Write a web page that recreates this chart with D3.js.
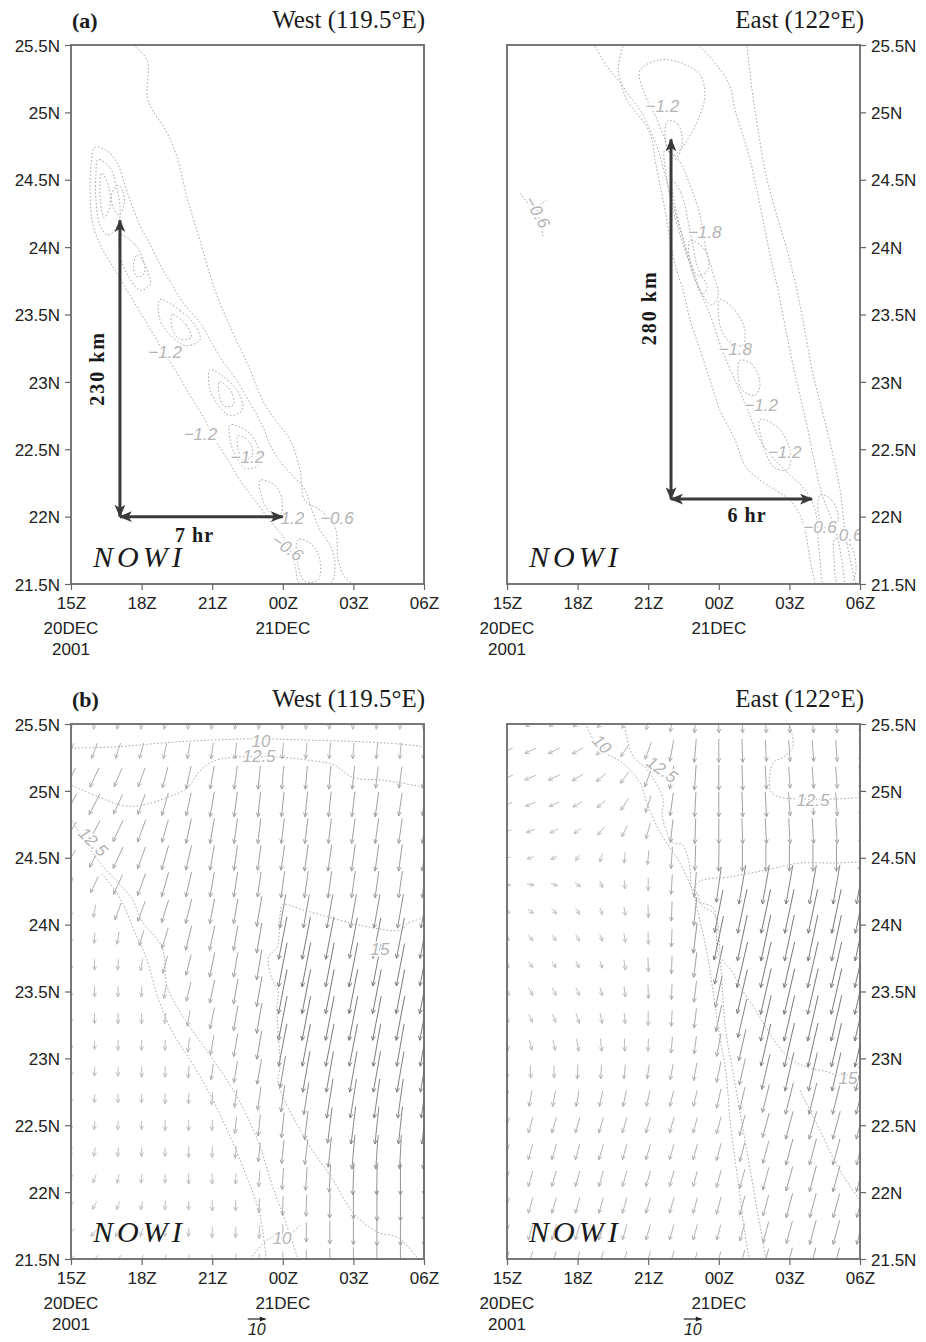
<!DOCTYPE html>
<html>
<head>
<meta charset="utf-8">
<script src="https://cdn.jsdelivr.net/npm/d3@7"></script>
<style>
  body { margin: 0; background: #fff; }
  .tick text { font-family: "Liberation Sans", Arial, sans-serif; font-size: 17px; fill: #222; }
  .tick line { stroke: #666; stroke-width: 1.2; }
</style>
</head>
<body>
<svg id="chart" width="926" height="1342"></svg>
<script>
// time axis in hours after 00Z 20 Dec 2001 (24 = 00Z 21DEC)
var tickHours = [15, 18, 21, 24, 27, 30];
var tickLabels = ["15Z", "18Z", "21Z", "00Z", "03Z", "06Z"];
var latTicks = [21.5, 22, 22.5, 23, 23.5, 24, 24.5, 25, 25.5];

// wind grid (columns = hours, rows = latitude from north to south)
var timeHours = [15, 16, 17, 18, 19, 20, 21, 22, 23, 24, 25, 26, 27, 28, 29, 30];
var latRows = [25.5, 25.3, 25.1, 24.9, 24.7, 24.5, 24.3, 24.1, 23.9, 23.7, 23.5, 23.3, 23.1, 22.9, 22.7, 22.5, 22.3, 22.1, 21.9, 21.7, 21.5];

// wind speed (m/s) and direction the wind blows toward (deg from north)
var westSpeed = [
  [6,6,6,6,6,6,6,6,6,6,6,6,6,6,6,6],
  [9,9,9,9,9,9,9,9,9,9,9,9,9,9,9,9],
  [12,12,11,11,12,13,13,13,13,13,13,13,13,12,12,12],
  [13,13,12,12,13,13,14,14,14,14,14,14,14,14,13,13],
  [12,13,13,13,13,14,14,14,14,14,14,14,14,14,14,14],
  [10,12,13,13,14,14,14,14,14,14,15,15,15,15,15,15],
  [8,10,12,13,14,14,14,14,14,15,15,15,15,15,15,15],
  [6,7,10,12,13,14,14,14,17,19,19,19,19,19,19,19],
  [6,6,7,9,12,14,14,14,17,24,24,24,23,23,23,23],
  [6,6,6,7,10,12,14,14,17,25,25,25,25,24,24,24],
  [6,6,6,6,8,11,13,14,17,25,25,25,25,25,25,25],
  [5,6,6,6,6,9,12,14,17,25,25,25,25,25,25,25],
  [5,5,6,6,6,8,11,13,16,24,24,24,24,24,24,24],
  [5,5,5,6,6,7,9,12,14,18,23,23,23,23,23,23],
  [5,5,5,5,6,6,7,10,13,15,18,22,22,22,22,22],
  [5,5,5,5,6,6,6,9,12,14,16,20,21,21,21,21],
  [5,5,5,5,5,6,6,7,11,13,14,17,19,19,19,19],
  [5,5,5,5,5,6,6,6,9,12,13,15,18,18,18,18],
  [5,5,5,5,5,5,6,6,8,11,12,14,15,17,17,17],
  [6,6,6,5,5,5,6,6,7,9,11,13,14,15,15,15],
  [6,6,6,5,5,5,5,6,6,8,10,12,13,14,14,14]
];
var westDir = [
  [190,190,190,190,190,190,190,190,188,188,188,188,188,188,188,188],
  [200,200,198,195,192,190,188,186,185,185,185,185,185,185,185,185],
  [205,205,203,200,195,192,190,188,186,185,185,185,186,187,188,188],
  [208,207,205,200,196,192,190,188,186,186,186,186,187,188,188,188],
  [210,208,205,200,196,192,190,188,187,187,187,187,188,188,188,188],
  [210,208,205,200,196,193,190,188,188,188,188,188,188,188,188,188],
  [195,205,205,200,196,193,190,189,188,188,188,188,188,188,188,188],
  [185,190,200,200,197,194,191,190,190,190,190,190,190,190,190,190],
  [182,184,190,196,197,194,192,190,190,191,191,191,191,191,191,191],
  [180,180,184,190,195,194,192,190,190,191,191,191,191,191,191,191],
  [180,180,180,184,190,193,192,190,190,191,191,191,191,191,191,191],
  [180,180,180,180,185,190,192,190,190,191,191,191,191,191,191,191],
  [180,180,180,180,182,187,190,190,190,191,191,191,191,190,190,190],
  [182,182,180,180,180,184,188,190,190,190,190,190,190,190,190,190],
  [185,183,180,180,180,182,185,188,188,188,189,189,189,188,188,188],
  [188,185,182,180,180,180,183,186,186,186,187,187,187,186,186,186],
  [195,190,185,182,180,180,181,184,186,186,187,186,185,184,183,183],
  [205,200,192,186,182,180,180,182,184,184,184,183,182,181,180,180],
  [215,210,200,190,184,181,180,181,182,182,182,181,180,180,180,180],
  [225,222,212,198,188,183,181,181,181,181,180,180,180,180,180,180],
  [230,228,220,205,192,185,182,181,180,180,180,180,180,180,180,180]
];
var eastSpeed = [
  [6,6,6,6,6,6,7,9,10,10,10,10,10,10,10,10],
  [7,7,7,7,7,8,10,12,13,13,13,12,12,12,12,12],
  [7,7,7,7,7,8,11,13,14,14,14,13,12,12,12,13],
  [6,6,6,6,6,8,10,13,14,14,14,14,13,12,13,13],
  [5,5,5,5,6,7,9,13,14,14,14,14,14,14,14,14],
  [4,4,4,4,5,6,8,12,14,15,15,15,15,15,15,15],
  [4,4,4,4,4,5,7,11,14,20,22,22,22,22,22,22],
  [4,4,4,4,4,5,7,11,16,24,25,25,25,25,25,25],
  [4,4,4,4,4,5,7,10,17,25,26,26,26,26,26,26],
  [4,4,4,4,4,6,8,10,14,22,26,26,26,26,26,26],
  [5,5,5,5,5,6,8,9,12,18,25,26,26,26,26,26],
  [5,5,5,6,6,6,8,9,11,15,22,26,26,26,26,26],
  [6,6,6,7,7,7,7,9,10,13,18,24,25,25,25,25],
  [7,7,7,8,8,8,8,9,10,12,15,20,22,22,22,22],
  [9,9,9,9,9,9,9,9,9,11,13,16,18,18,18,18],
  [9,9,9,9,9,9,9,9,9,10,12,14,16,16,16,16],
  [9,9,9,9,9,9,9,9,9,10,11,13,15,15,15,15],
  [9,9,9,9,9,9,9,9,9,10,11,13,14,15,15,15],
  [9,9,9,9,9,9,9,9,9,10,11,12,14,14,14,14],
  [9,9,9,9,9,9,9,9,9,9,10,12,13,14,14,14],
  [9,9,9,9,9,9,9,9,8,9,10,12,13,13,13,13]
];
var eastDir = [
  [245,245,245,240,230,215,200,190,185,180,178,177,176,176,176,176],
  [245,245,245,240,230,215,200,190,185,180,178,177,176,176,176,176],
  [248,248,245,240,230,215,200,190,184,180,178,177,176,176,176,176],
  [250,250,245,240,230,212,198,188,183,180,178,177,176,176,176,176],
  [255,252,245,235,220,205,195,186,182,180,178,177,177,177,177,177],
  [262,255,240,215,195,185,185,184,182,181,180,180,180,180,180,180],
  [100,100,110,130,160,175,180,183,185,188,190,190,190,190,190,190],
  [120,125,135,145,160,170,178,182,186,191,192,192,192,192,192,192],
  [135,140,145,150,160,170,178,182,187,192,192,192,192,192,192,192],
  [145,145,150,155,163,172,178,182,187,192,193,193,193,193,193,193],
  [150,150,152,158,165,173,178,182,187,192,193,193,193,193,193,193],
  [155,155,158,162,168,175,180,183,187,192,193,193,193,193,193,193],
  [165,165,168,170,174,178,182,185,187,191,193,193,193,193,193,193],
  [178,178,180,182,184,186,188,190,190,192,193,193,193,193,193,193],
  [190,190,190,190,192,192,193,193,193,193,193,194,194,194,194,194],
  [196,196,196,196,196,196,196,196,195,195,195,195,195,195,195,195],
  [196,196,196,196,196,196,196,196,195,195,195,195,195,195,195,195],
  [196,196,196,196,196,196,196,196,195,195,195,195,195,195,195,195],
  [196,196,196,196,196,196,196,196,195,195,195,195,195,195,195,195],
  [196,196,196,196,196,196,196,196,195,195,195,195,195,195,195,195],
  [196,196,196,196,196,196,196,196,195,195,195,195,195,195,195,195]
];

// NOWI contours, [hour, lat]; loops end on their first point
var westNowiLines = [
  [[17.63,25.5],[18.23,25.39],[18.27,25.09],[19.08,24.85],[19.5,24.67],[19.93,24.37],[20.48,24.05],[21.12,23.68],[21.84,23.38],[22.61,23.09],[23.12,22.87],[23.67,22.72],[24.31,22.57],[24.73,22.35],[24.94,22.12],[25.58,22.05],[26.22,21.92],[26.35,21.68],[26.64,21.55],[26.98,21.5]],
  [[16.02,24.74],[16.57,24.71],[17.0,24.61],[17.29,24.46],[17.59,24.31],[17.93,24.16],[18.36,24.02],[18.78,23.87],[19.29,23.72],[19.84,23.57],[20.48,23.44],[20.91,23.31],[21.42,23.16],[21.97,23.03],[22.52,22.87],[23.12,22.68],[23.46,22.53],[23.88,22.41],[24.39,22.31],[24.94,22.2],[25.24,22.05],[25.58,21.9],[26.01,21.79],[26.22,21.64],[26.01,21.5],[24.73,21.5],[24.52,21.64],[24.09,21.83],[23.46,21.97],[22.82,22.12],[22.18,22.27],[21.67,22.42],[21.12,22.57],[20.69,22.72],[20.06,22.9],[19.42,23.09],[18.78,23.27],[18.14,23.46],[17.51,23.64],[16.87,23.83],[16.23,24.02],[15.89,24.2],[15.81,24.42],[15.85,24.61],[16.02,24.74]],
  [[16.15,24.65],[16.66,24.59],[16.91,24.46],[17.08,24.31],[17.0,24.16],[16.57,24.09],[16.23,24.16],[16.06,24.35],[16.06,24.54],[16.15,24.65]],
  [[17.0,24.46],[17.21,24.41],[17.25,24.31],[17.04,24.24],[16.78,24.3],[16.74,24.4],[17.0,24.46]],
  [[17.08,24.09],[17.72,24.02],[18.14,23.87],[18.36,23.72],[17.93,23.68],[17.42,23.79],[17.08,23.94],[17.08,24.09]],
  [[17.8,23.94],[18.1,23.88],[18.1,23.8],[17.8,23.78],[17.65,23.86],[17.8,23.94]],
  [[18.78,23.61],[19.63,23.53],[20.27,23.42],[20.48,23.31],[19.84,23.27],[19.21,23.35],[18.78,23.46],[18.78,23.61]],
  [[20.91,23.09],[21.67,23.01],[22.18,22.9],[22.27,22.79],[21.76,22.75],[21.25,22.83],[20.91,22.94],[20.91,23.09]],
  [[21.76,22.68],[22.52,22.63],[22.95,22.51],[22.95,22.38],[22.39,22.36],[21.97,22.46],[21.76,22.57],[21.76,22.68]],
  [[23.03,22.27],[23.67,22.23],[23.97,22.12],[23.88,22.01],[23.46,22.03],[23.12,22.14],[23.03,22.27]],
  [[24.65,21.83],[25.24,21.79],[25.58,21.68],[25.5,21.53],[24.94,21.52],[24.65,21.64],[24.65,21.83]],
  [[16.3,24.55],[16.6,24.45],[16.65,24.3],[16.4,24.22],[16.25,24.35],[16.3,24.55]],
  [[19.3,23.5],[19.9,23.42],[20.1,23.33],[19.6,23.32],[19.3,23.4],[19.3,23.5]],
  [[21.3,23.0],[21.8,22.93],[21.9,22.83],[21.5,22.82],[21.3,22.9],[21.3,23.0]],
  [[22.1,22.6],[22.6,22.55],[22.7,22.45],[22.3,22.42],[22.1,22.5],[22.1,22.6]]
];
var westNowiLabels = [
  ["\u22121.2", 19.0, 23.22, 0], ["\u22121.2", 20.5, 22.61, 0], ["\u22121.2", 22.5, 22.44, 0],
  ["\u22121.2", 24.2, 21.99, 0], ["\u22120.6", 26.3, 21.99, 0], ["\u22120.6", 24.2, 21.77, 35]
];
var eastNowiLines = [
  [[18.74,25.49],[19.25,25.34],[19.8,25.22],[20.1,25.09],[20.95,24.89],[21.16,24.8],[21.29,24.65],[21.5,24.46],[21.71,24.28],[21.93,24.05],[22.14,23.87],[22.48,23.68],[22.78,23.46],[23.2,23.24],[23.63,23.01],[24.05,22.79],[24.69,22.57],[25.11,22.38],[25.75,22.27],[26.39,22.2],[27.03,22.12],[27.45,22.01],[27.66,21.9],[27.88,21.68],[28.09,21.5]],
  [[19.93,25.49],[19.72,25.31],[20.01,25.17],[20.65,25.02],[21.08,24.87],[21.42,24.72],[21.71,24.54],[22.01,24.35],[22.35,24.13],[22.78,23.9],[23.2,23.68],[23.71,23.46],[24.14,23.24],[24.69,23.01],[25.24,22.79],[25.75,22.57],[26.39,22.42],[27.03,22.31],[27.66,22.2],[28.09,22.05],[28.22,21.83],[28.39,21.5]],
  [[20.65,25.31],[21.5,25.39],[22.35,25.37],[23.2,25.28],[23.41,25.13],[23.2,24.98],[22.78,24.83],[22.35,24.72],[22.01,24.68],[21.71,24.8],[21.29,24.98],[20.86,25.13],[20.65,25.31]],
  [[23.2,25.49],[23.97,25.34],[24.48,25.19],[24.69,25.02],[24.99,24.85],[25.33,24.65],[25.62,24.42],[25.88,24.2],[26.18,23.94],[26.52,23.68],[26.81,23.42],[27.11,23.16],[27.45,22.9],[27.79,22.64],[28.09,22.38],[28.39,22.16],[28.73,22.01],[29.07,21.83],[29.36,21.5]],
  [[25.2,25.49],[25.41,25.17],[25.67,24.87],[25.96,24.57],[26.39,24.28],[26.9,23.98],[27.32,23.68],[27.66,23.38],[27.96,23.09],[28.39,22.79],[28.81,22.49],[29.15,22.2],[29.36,21.9],[29.58,21.68],[29.83,21.5]],
  [[21.84,24.94],[22.27,24.91],[22.44,24.76],[22.14,24.65],[21.84,24.72],[21.71,24.83],[21.84,24.94]],
  [[21.71,24.72],[22.27,24.65],[22.78,24.46],[23.2,24.24],[23.41,24.02],[23.71,23.83],[23.97,23.64],[23.71,23.57],[23.2,23.68],[22.78,23.87],[22.35,24.09],[22.01,24.31],[21.76,24.54],[21.71,24.72]],
  [[22.0,24.5],[22.4,24.4],[22.8,24.1],[23.1,23.85],[23.5,23.7],[23.3,23.65],[22.9,23.8],[22.5,24.05],[22.15,24.3],[22.0,24.5]],
  [[24.05,23.61],[24.69,23.53],[25.11,23.38],[24.99,23.27],[24.39,23.31],[24.05,23.42],[24.05,23.61]],
  [[22.78,24.05],[23.41,23.98],[23.54,23.83],[23.12,23.79],[22.78,23.9],[22.78,24.05]],
  [[24.9,23.16],[25.41,23.13],[25.75,22.98],[25.54,22.9],[24.99,22.94],[24.82,23.05],[24.9,23.16]],
  [[25.75,22.72],[26.52,22.66],[27.03,22.49],[26.94,22.35],[26.39,22.36],[25.96,22.49],[25.75,22.72]],
  [[28.3,22.16],[28.81,22.12],[29.07,21.97],[28.73,21.9],[28.3,21.97],[28.3,22.16]],
  [[28.94,21.83],[29.58,21.79],[29.83,21.6],[29.58,21.5],[29.07,21.5],[28.9,21.68],[28.94,21.83]],
  [[15.55,24.4],[15.89,24.33],[16.23,24.3],[16.66,24.35]],
  [[16.23,24.3],[16.4,24.19],[16.53,24.08]]
];
var eastNowiLabels = [
  ["\u22121.2", 21.6, 25.05, 0], ["\u22121.8", 23.4, 24.11, 0], ["\u22121.8", 24.7, 23.24, 0],
  ["\u22121.2", 25.8, 22.83, 0], ["\u22121.2", 26.8, 22.48, 0], ["\u22120.6", 28.3, 21.92, 0],
  ["0.6", 29.6, 21.86, 0], ["\u22120.6", 16.3, 24.26, 60]
];

// isotachs (m/s) of the wind panels, [hour, lat]
var westWindLines = [
  [[15,25.32],[17,25.33],[19,25.36],[21,25.38],[23,25.39],[25,25.38],[27,25.37],[29,25.35],[30,25.33]],
  [[15.04,25.04],[16.23,24.95],[17.21,24.89],[17.93,24.89],[19.08,24.95],[19.93,25.02],[20.48,25.15],[21.03,25.22],[21.88,25.25],[24.0,25.25],[25.45,25.22],[26.13,25.2],[26.98,25.1],[28.26,25.08],[29.96,25.03]],
  [[15.04,24.78],[16.15,24.48],[16.87,24.34],[17.6,24.19],[18.0,24.03],[18.87,23.83],[19.1,23.53],[20.0,23.25],[21.0,23.0],[22.0,22.73],[22.95,22.38],[23.55,22.05],[23.97,21.85],[24.65,21.5]],
  [[16.3,24.38],[16.9,24.25],[17.3,24.12],[17.7,23.95],[18.2,23.75],[18.7,23.45],[19.3,23.2],[20.2,22.95],[21.0,22.7],[21.8,22.4],[22.5,22.1],[23.0,21.85],[23.3,21.5]],
  [[22.6,21.5],[23.2,21.62],[23.6,21.67],[24.4,21.7],[24.7,21.75]],
  [[30,24.05],[29.3,24.01],[29.0,23.96],[27.7,23.98],[24.86,24.11],[24.0,24.15],[23.9,24.09],[23.75,23.83],[23.4,23.76],[23.55,23.59],[23.8,23.51],[23.75,23.38],[23.88,22.94],[23.8,22.82],[24.95,22.4],[26.1,22.1],[27.07,21.83],[28.05,21.7],[28.9,21.66],[29.75,21.5]]
];
var westWindLabels = [
  ["10", 23.07, 25.37, 0], ["12.5", 22.99, 25.26, 0], ["12.5", 15.94, 24.62, 45],
  ["10", 23.97, 21.66, 0], ["15", 28.13, 23.82, 0]
];
var eastWindLines = [
  [[18.4,25.48],[18.95,25.31],[19.9,25.21],[20.65,25.06],[20.95,24.91],[21.5,24.69],[22.35,24.46],[22.9,24.24],[23.2,24.03],[23.5,23.79],[23.75,23.51],[24.0,23.2],[24.3,22.9],[24.5,22.5],[24.8,22.1],[25.1,21.7],[25.3,21.5]],
  [[20.0,25.48],[20.35,25.26],[20.95,25.16],[21.63,24.94],[21.59,24.82],[21.8,24.69],[22.06,24.61],[22.44,24.6],[22.65,24.52],[22.78,24.42],[22.86,24.27],[23.07,24.24],[23.28,24.14],[23.75,24.09],[23.97,23.99],[24.05,23.79],[24.14,23.54],[24.3,23.2],[24.6,22.9],[25.0,22.5],[25.4,22.1],[25.7,21.8],[26.0,21.5]],
  [[30,24.47],[28.85,24.46],[27.45,24.46],[26.05,24.41],[24.6,24.36],[23.07,24.31],[23.07,24.18],[23.75,24.13],[23.9,24.04],[23.97,23.79],[24.6,23.64],[24.9,23.54],[25.6,23.35],[26.3,23.15],[27.0,23.0],[27.8,22.93],[28.6,22.9],[29.1,22.87],[29.8,22.9],[30,22.95]],
  [[27.03,25.48],[27.15,25.33],[26.73,25.25],[26.31,25.21],[26.18,25.01],[26.47,24.96],[27.4,24.94],[29.02,24.94],[30,24.95]],
  [[27.45,22.76],[28.3,22.46],[29.15,22.16],[30,21.94]]
];
var eastWindLabels = [
  ["10", 19.04, 25.35, 45], ["12.5", 21.59, 25.16, 35], ["12.5", 28.0, 24.93, 0], ["15", 29.49, 22.85, 0]
];

// distance / duration arrows drawn on the NOWI panels
var westArrowV = [[17.08, 22.0], [17.08, 24.2]];
var westArrowH = [[17.08, 22.0], [24.0, 22.0]];
var eastArrowV = [[21.97, 22.13], [21.97, 24.8]];
var eastArrowH = [[21.97, 22.13], [27.96, 22.13]];
var westArrowText = [["230 km", 16.1, 23.1, -90], ["7 hr", 20.25, 21.86, 0]];
var eastArrowText = [["280 km", 21.05, 23.55, -90], ["6 hr", 25.2, 22.01, 0]];

var svg = d3.select("#chart");
var grayLine = "#a9a9a9";
var speedLen = d3.scaleLinear().domain([0, 10]).range([0, 18]);
var speedColor = d3.scaleLinear().domain([5, 25]).range(["#bdbdbd", "#727272"]).clamp(true);

var defs = svg.append("defs");
defs.append("marker").attr("id", "head").attr("viewBox", "0 0 12 10")
  .attr("refX", 11).attr("refY", 5).attr("markerWidth", 13).attr("markerHeight", 11)
  .attr("markerUnits", "userSpaceOnUse").attr("orient", "auto-start-reverse")
  .append("path").attr("d", "M0,0 L12,5 L0,10 L3,5 z").attr("fill", "#3a3a3a");

function drawPanel(p) {
  var x = d3.scaleLinear().domain([15, 30]).range([p.x0, p.x1]);
  var y = d3.scaleLinear().domain([21.5, 25.5]).range([p.y1, p.y0]);
  var g = svg.append("g");

  defs.append("clipPath").attr("id", "clip" + p.id).append("rect")
    .attr("x", p.x0).attr("y", p.y0).attr("width", p.x1 - p.x0).attr("height", p.y1 - p.y0);
  var plot = g.append("g").attr("clip-path", "url(#clip" + p.id + ")");

  // wind vectors
  if (p.speed) {
    p.speed.forEach(function(row, i) {
      row.forEach(function(s, j) {
        var a = p.dir[i][j] * Math.PI / 180;
        var L = speedLen(s);
        var dx = L * Math.sin(a), dy = -L * Math.cos(a);
        var cx = x(timeHours[j]), cy = y(latRows[i]);
        var hx = cx + dx / 2, hy = cy + dy / 2;
        var ux = -dx / L, uy = -dy / L, h = 4.5, k = 0.45;
        var c = Math.cos(k), sn = Math.sin(k);
        var l1 = [hx + h * (ux * c - uy * sn), hy + h * (ux * sn + uy * c)];
        var l2 = [hx + h * (ux * c + uy * sn), hy + h * (-ux * sn + uy * c)];
        plot.append("path")
          .attr("d", "M" + (cx - dx / 2) + "," + (cy - dy / 2) + "L" + hx + "," + hy +
            "M" + l1[0] + "," + l1[1] + "L" + hx + "," + hy + "L" + l2[0] + "," + l2[1])
          .attr("fill", "none").attr("stroke", speedColor(s)).attr("stroke-width", 0.95);
      });
    });
  }

  // contours
  p.lines.forEach(function(pts) {
    var closed = pts.length > 3 && pts[0][0] === pts[pts.length - 1][0] && pts[0][1] === pts[pts.length - 1][1];
    var line = d3.line().x(function(d) { return x(d[0]); }).y(function(d) { return y(d[1]); })
      .curve(closed ? d3.curveCatmullRomClosed : d3.curveCatmullRom);
    plot.append("path").attr("d", line(closed ? pts.slice(0, -1) : pts))
      .attr("fill", "none").attr("stroke", grayLine).attr("stroke-width", 1)
      .attr("stroke-dasharray", "1.6,2");
  });
  p.labels.forEach(function(d) {
    plot.append("text").attr("transform", "translate(" + x(d[1]) + "," + y(d[2]) + ") rotate(" + d[3] + ")")
      .attr("text-anchor", "middle").attr("dy", "0.35em")
      .attr("font-family", "Liberation Sans, Arial, sans-serif").attr("font-size", 17)
      .attr("font-style", "italic").attr("fill", "#b4b4b4")
      .attr("stroke", "#fff").attr("stroke-width", 3).attr("paint-order", "stroke")
      .text(d[0]);
  });

  // distance / duration arrows
  if (p.arrows) {
    p.arrows.forEach(function(seg) {
      g.append("line").attr("x1", x(seg[0][0])).attr("y1", y(seg[0][1]))
        .attr("x2", x(seg[1][0])).attr("y2", y(seg[1][1]))
        .attr("stroke", "#3a3a3a").attr("stroke-width", 3)
        .attr("marker-start", "url(#head)").attr("marker-end", "url(#head)");
    });
    p.arrowText.forEach(function(d) {
      g.append("text").attr("transform", "translate(" + x(d[1]) + "," + y(d[2]) + ") rotate(" + d[3] + ")")
        .attr("text-anchor", "middle").attr("dy", "0.35em")
        .attr("font-family", "Liberation Serif, Times New Roman, serif").attr("font-weight", "bold")
        .attr("font-size", 20).attr("letter-spacing", d[3] ? 2 : 1).attr("fill", "#1a1a1a").text(d[0]);
    });
  }

  // NOWI tag
  g.append("text").attr("x", x(15) + 22).attr("y", p.y1 - 17)
    .attr("font-family", "Liberation Serif, Times New Roman, serif").attr("font-style", "italic")
    .attr("font-size", 30).attr("letter-spacing", 4).attr("fill", "#1a1a1a").text("NOWI");

  // frame
  g.append("rect").attr("x", p.x0).attr("y", p.y0).attr("width", p.x1 - p.x0).attr("height", p.y1 - p.y0)
    .attr("fill", "none").attr("stroke", "#6a6a6a").attr("stroke-width", 1.8);

  // axes
  var yAxis = (p.yRight ? d3.axisRight(y) : d3.axisLeft(y))
    .tickValues(latTicks).tickFormat(function(d) { return d + "N"; })
    .tickSizeInner(6).tickSizeOuter(0).tickPadding(5);
  var ya = g.append("g").attr("transform", "translate(" + (p.yRight ? p.x1 : p.x0) + ",0)").call(yAxis);
  ya.select(".domain").remove();
  ya.selectAll("text").attr("dy", "0.36em");

  var xAxis = d3.axisBottom(x).tickValues(tickHours)
    .tickFormat(function(d, i) { return tickLabels[i]; })
    .tickSizeInner(6).tickSizeOuter(0).tickPadding(7);
  var xa = g.append("g").attr("transform", "translate(0," + p.y1 + ")").call(xAxis);
  xa.select(".domain").remove();
  var dateLines = [[15, "20DEC", 1], [15, "2001", 2], [24, "21DEC", 1]];
  dateLines.forEach(function(d) {
    g.append("text").attr("x", x(d[0])).attr("y", p.y1 + 29 + 21 * d[2])
      .attr("text-anchor", "middle").attr("font-family", "Liberation Sans, Arial, sans-serif")
      .attr("font-size", 17).attr("fill", "#222").text(d[1]);
  });

  // titles
  if (p.tag) {
    g.append("text").attr("x", p.x0 + 1).attr("y", p.y0 - 17)
      .attr("font-family", "Liberation Serif, Times New Roman, serif").attr("font-weight", "bold")
      .attr("font-size", 22).attr("fill", "#1a1a1a").text(p.tag);
  }
  g.append("text").attr("x", p.x1 + (p.yRight ? 4 : 1)).attr("y", p.y0 - 17).attr("text-anchor", "end")
    .attr("font-family", "Liberation Serif, Times New Roman, serif")
    .attr("font-size", 25).attr("fill", "#1a1a1a").text(p.title);

  // reference vector
  if (p.speed) {
    var rx = x(24) - 35, ry = p.y1 + 60;
    g.append("line").attr("x1", rx).attr("y1", ry).attr("x2", rx + speedLen(10)).attr("y2", ry)
      .attr("stroke", "#222").attr("stroke-width", 1.2);
    g.append("path").attr("d", "M" + (rx + speedLen(10) - 6) + "," + (ry - 2.5) + "L" + (rx + speedLen(10)) + "," + ry +
      "L" + (rx + speedLen(10) - 6) + "," + (ry + 2.5) + "z").attr("fill", "#222");
    g.append("text").attr("x", rx + 9).attr("y", ry + 16).attr("text-anchor", "middle")
      .attr("font-family", "Liberation Sans, Arial, sans-serif").attr("font-style", "italic")
      .attr("font-size", 16).attr("fill", "#222").text("10");
  }
}

drawPanel({ id: "aw", x0: 71, x1: 424, y0: 45, y1: 584, tag: "(a)", title: "West (119.5\u00b0E)",
  lines: westNowiLines, labels: westNowiLabels, arrows: [westArrowV, westArrowH], arrowText: westArrowText });
drawPanel({ id: "ae", x0: 507, x1: 860, y0: 45, y1: 584, yRight: true, title: "East (122\u00b0E)",
  lines: eastNowiLines, labels: eastNowiLabels, arrows: [eastArrowV, eastArrowH], arrowText: eastArrowText });
drawPanel({ id: "bw", x0: 71, x1: 424, y0: 724, y1: 1259, tag: "(b)", title: "West (119.5\u00b0E)",
  lines: westWindLines, labels: westWindLabels, speed: westSpeed, dir: westDir });
drawPanel({ id: "be", x0: 507, x1: 860, y0: 724, y1: 1259, yRight: true, title: "East (122\u00b0E)",
  lines: eastWindLines, labels: eastWindLabels, speed: eastSpeed, dir: eastDir });
</script>
</body>
</html>
